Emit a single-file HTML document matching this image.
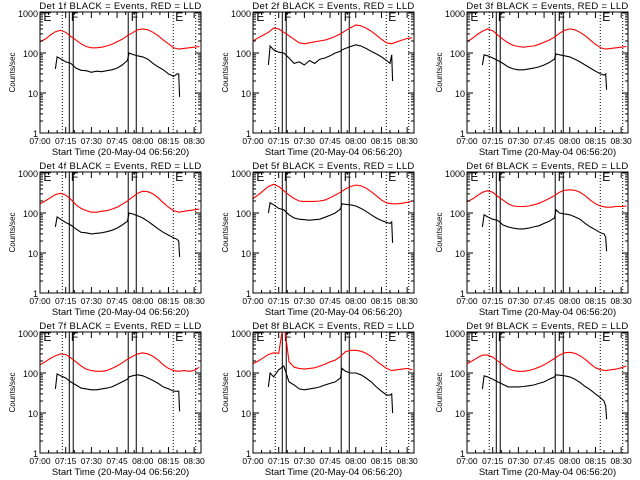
<!DOCTYPE html>
<html><head><meta charset="utf-8"><style>
html,body{margin:0;padding:0;background:#fff;}
svg{display:block;font-family:"Liberation Sans",sans-serif;}
</style></head><body>
<svg id="chart" width="640" height="480" viewBox="0 0 640 480"></svg>
<script>
const detectors = ["1f","2f","3f","4f","5f","6f","7f","8f","9f"];
const redTimes = [0,3,6,9,12,15,18,21,24,27,30,33,36,39,42,45,48,51,54,57,60,63,66,69,72,75,78,81,84,87,90,93];
const blackTimes = [9,10,12,15,18,21,24,27,30,33,36,39,42,45,48,51,52,54,57,60,63,66,69,72,75,78,80,81,81.5];
const red1 = [190,220,280,340,370,330,260,210,170,145,135,135,140,150,165,190,220,270,320,380,400,380,330,270,210,170,135,125,130,135,140,145];
const black1 = [40,80,72,60,55,42,37,36,33,35,34,36,38,42,50,65,100,92,85,80,70,55,45,38,30,26,30,30,8];
const red2 = [200,240,280,330,420,400,330,270,220,180,170,180,190,200,210,230,260,300,360,430,500,480,420,350,280,220,180,170,190,210,230,240];
const black2 = [50,150,120,105,100,75,55,60,50,65,55,70,75,85,100,110,120,130,145,160,150,130,110,95,80,65,55,90,20];
const red3 = [190,230,290,350,400,360,280,220,180,155,145,140,145,150,165,185,210,250,310,370,400,380,330,270,210,165,135,125,130,135,140,145];
const black3 = [50,90,85,75,65,55,45,40,38,38,40,42,45,50,58,70,95,90,85,80,70,60,50,42,35,30,28,30,12];
const red4 = [170,200,240,290,310,280,220,160,130,115,105,105,110,115,125,140,165,200,250,310,350,340,300,240,180,140,115,105,110,115,120,125];
const black4 = [45,80,70,58,50,40,33,32,30,31,32,34,37,42,50,62,100,95,85,75,62,50,40,33,28,24,22,20,8];
const red5 = [230,280,360,460,520,460,360,280,230,200,195,195,195,200,210,240,280,330,400,460,500,480,420,340,270,210,180,170,170,175,185,200];
const black5 = [100,180,160,130,120,90,75,70,68,66,68,70,78,88,100,125,170,165,160,150,130,110,90,75,65,58,55,60,18];
const red6 = [190,220,270,330,360,330,260,210,170,150,145,145,150,160,175,200,230,270,330,370,380,370,330,270,210,170,150,140,140,145,145,150];
const black6 = [45,90,80,70,65,50,45,42,40,40,42,45,48,55,62,75,120,100,95,90,80,70,55,45,38,32,30,25,11];
const red7 = [160,190,230,270,300,290,240,190,150,125,115,110,110,115,130,150,180,220,260,300,320,300,260,210,160,130,115,110,115,110,115,140];
const black7 = [40,95,85,75,60,50,42,40,38,38,40,42,45,52,60,70,80,85,90,85,75,65,55,45,40,35,35,35,11];
const red8 = [170,200,240,290,320,310,2000,190,140,130,125,130,135,150,165,190,210,260,340,370,370,350,310,260,200,160,130,115,120,125,130,120];
const black8 = [45,100,80,120,150,60,50,40,38,40,42,45,50,55,60,75,130,110,100,100,90,75,60,45,35,28,28,30,10];
const red9 = [170,200,240,280,280,250,200,160,130,115,110,110,115,125,140,160,190,230,280,320,330,310,270,220,170,135,120,115,120,125,135,150];
const black9 = [40,85,80,70,60,52,45,45,45,46,48,50,55,60,70,80,90,88,85,80,70,58,46,38,30,24,20,15,7];
const redSeries = [red1,red2,red3,red4,red5,red6,red7,red8,red9];
const blackSeries = [black1,black2,black3,black4,black5,black6,black7,black8,black9];
const xTickMinutes = [0,15,30,45,60,75,90];
const xTickLabels = ["07:00","07:15","07:30","07:45","08:00","08:15","08:30"];
const yTickValues = [1,10,100,1000];
const yTickLabels = ["1","10","100","1000"];
const dottedMinutes = [13,77.8,90.9];
const solidMinutes = [17.1,19.4,51.5,56.2];
const markerMinutes = [2,18,53,79];
const markerLabels = ["E","F","F","E"];

const NS = "http://www.w3.org/2000/svg";
const svg = document.getElementById("chart");
function mk(tag, attrs, parent){const e=document.createElementNS(NS,tag);for(const k in attrs)e.setAttribute(k,attrs[k]);(parent||svg).appendChild(e);return e;}
const colX=[0,213,427], BOXL=40, BOXW=161, TMAX=94, BOXT=12, BOXH=121;

for(let p=0;p<9;p++){
  const col=p%3,row=Math.floor(p/3);
  const x0=colX[col]+BOXL, y0=BOXT+160*row, x1=x0+BOXW, y1=y0+BOXH;
  const xs=t=>x0+t/TMAX*BOXW;
  const ys=v=>y1-(Math.log10(Math.max(v,0.5)))/3*(BOXH-1);
  const g=mk("g",{});
  
  
  const clip=mk("clipPath",{id:"c"+p},g);mk("rect",{x:x0,y:y0,width:BOXW,height:BOXH},clip);
  const t=mk("text",{x:x0+BOXW/2,y:y0-3,"text-anchor":"middle","font-size":"9.5","letter-spacing":"0.3"},g);
  t.textContent="Det "+detectors[p]+" BLACK = Events, RED = LLD";
  
  
  dottedMinutes.forEach(m=>{const l=mk("line",{x1:xs(m),x2:xs(m),y1:y0,y2:y1,stroke:"#000","stroke-dasharray":"1,2"},g);
    });
  solidMinutes.forEach(m=>{const l=mk("line",{x1:xs(m),x2:xs(m),y1:y0,y2:y1,stroke:"#000","stroke-width":"1"},g);
    });
  markerMinutes.forEach((m,i)=>{const tx=mk("text",{x:xs(m),y:y0+9,"font-size":"12"},g);tx.textContent=markerLabels[i];
    });
  const rp=redTimes.map((tt,i)=>xs(tt).toFixed(1)+","+ys(redSeries[p][i]).toFixed(1)).join(" ");
  const r=mk("polyline",{points:rp,fill:"none",stroke:"#f00","stroke-width":"1.1","clip-path":"url(#c"+p+")"},g);
  
  const bp=blackTimes.map((tt,i)=>xs(tt).toFixed(1)+","+ys(blackSeries[p][i]).toFixed(1)).join(" ");
  const b=mk("polyline",{points:bp,fill:"none",stroke:"#000","stroke-width":"1.1","clip-path":"url(#c"+p+")"},g);
  
  const bx=mk("rect",{x:x0,y:y0,width:BOXW,height:BOXH,fill:"none",stroke:"#000"},g);
  
  yTickValues.forEach((v,i)=>{const y=ys(v);
    mk("line",{x1:x0,x2:x0+6,y1:y,y2:y,stroke:"#000"},g);mk("line",{x1:x1-6,x2:x1,y1:y,y2:y,stroke:"#000"},g);
    const lt=mk("text",{x:x0-2,y:y+4,"text-anchor":"end","font-size":"9"},g);lt.textContent=yTickLabels[i];
    
    if(i<3)for(let k=2;k<10;k++){const yy=ys(v*k);mk("line",{x1:x0,x2:x0+3,y1:yy,y2:yy,stroke:"#000"},g);mk("line",{x1:x1-3,x2:x1,y1:yy,y2:yy,stroke:"#000"},g);}
  });
  xTickMinutes.forEach((m,i)=>{const x=xs(m);
    mk("line",{x1:x,x2:x,y1:y1,y2:y1-6,stroke:"#000"},g);mk("line",{x1:x,x2:x,y1:y0,y2:y0+6,stroke:"#000"},g);
    const lt=mk("text",{x:x,y:y1+11,"text-anchor":"middle","font-size":"8.5"},g);lt.textContent=xTickLabels[i];
    
    for(let k=1;k<3;k++){const xm=xs(m+5*k);if(m+5*k<TMAX){mk("line",{x1:xm,x2:xm,y1:y1,y2:y1-3,stroke:"#000"},g);mk("line",{x1:xm,x2:xm,y1:y0,y2:y0+3,stroke:"#000"},g);}}
  });
  const xt=mk("text",{x:x0+BOXW/2,y:y1+22,"text-anchor":"middle","font-size":"9.5"},g);
  xt.textContent="Start Time (20-May-04 06:56:20)";
  
  const yt=mk("text",{x:0,y:0,"text-anchor":"middle","font-size":"8",transform:"translate("+(colX[col]+15)+","+(y0+BOXH/2)+") rotate(-90)"},g);
  yt.textContent="Counts/sec";
  
}
</script>
</body></html>
